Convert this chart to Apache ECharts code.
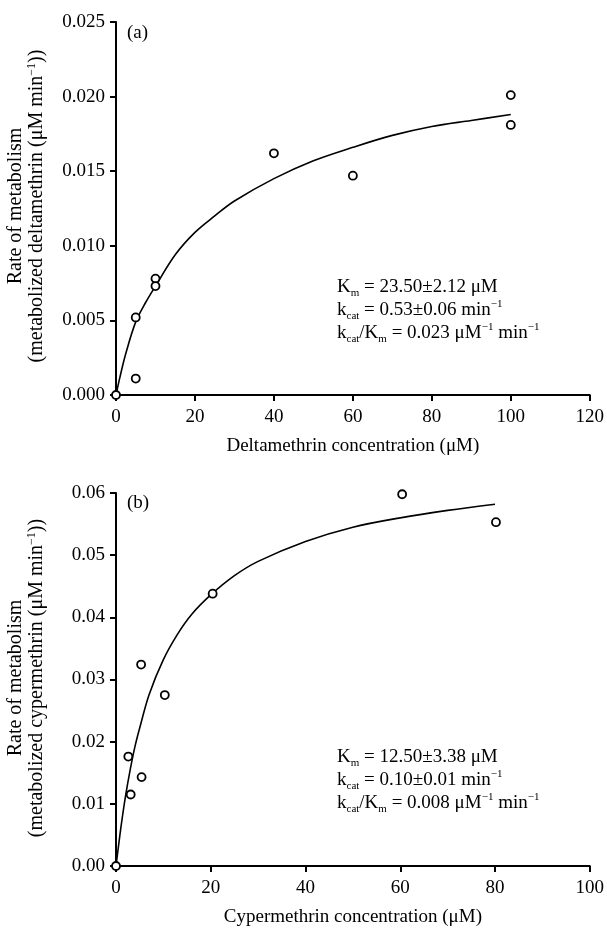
<!DOCTYPE html>
<html>
<head>
<meta charset="utf-8">
<script src="https://cdn.jsdelivr.net/npm/echarts@6/dist/echarts.min.js"></script>
<style>html,body{margin:0;padding:0;background:#fff;}#c{width:607px;height:928px;}</style>
</head>
<body>
<div id="c"></div>
<script>
// Panel (a): deltamethrin
var topConc = [0, 5, 5, 10, 10, 40, 60, 100, 100];
var topRate = [0, 0.0011, 0.0052, 0.0078, 0.0073, 0.0162, 0.0147, 0.0201, 0.0181];
var topFitConc = [0, 1, 2.5, 5, 7.5, 10, 15, 20, 25, 30, 40, 50, 60, 70, 80, 90, 100];
var topFitRate = [0, 0.0012, 0.0028, 0.0049, 0.0062, 0.0073, 0.0094, 0.0109, 0.0120, 0.0130, 0.0145, 0.0157, 0.0166, 0.0174, 0.0180, 0.0184, 0.0188];
var topXTicks = [0, 120, 20];
var topYTicks = [0, 0.025, 0.005];

// Panel (b): cypermethrin
var botConc = [0, 2.6, 3.1, 5.4, 5.3, 10.3, 20.4, 60.4, 80.2];
var botRate = [0, 0.0176, 0.0115, 0.0143, 0.0324, 0.0275, 0.0438, 0.0598, 0.0553];
var botFitConc = [0, 1, 2, 3, 4, 5, 7, 10, 13, 16, 20, 25, 30, 40, 50, 60, 70, 80];
var botFitRate = [0, 0.0060, 0.0112, 0.0155, 0.0192, 0.0222, 0.0276, 0.0332, 0.0373, 0.0405, 0.0436, 0.0467, 0.0490, 0.0522, 0.0545, 0.0560, 0.0572, 0.0582];
var botXTicks = [0, 100, 20];
var botYTicks = [0, 0.06, 0.01];

var FONT = 'Liberation Serif';
function pairs(xs, ys) { return xs.map(function (x, i) { return [x, ys[i]]; }); }

function xAxisCfg(grid, ticks, name) {
  return {
    type: 'value', gridIndex: grid, min: ticks[0], max: ticks[1], interval: ticks[2],
    name: name, nameLocation: 'middle', nameGap: 42,
    nameTextStyle: { fontFamily: FONT, fontSize: 19, color: '#000' },
    axisLine: { show: true, onZero: false, lineStyle: { color: '#000', width: 2 } },
    axisTick: { show: true, inside: false, length: 6, lineStyle: { color: '#000', width: 2 } },
    axisLabel: { fontFamily: FONT, fontSize: 19, color: '#000', margin: 13 },
    splitLine: { show: false }
  };
}
function yAxisCfg(grid, ticks, digits) {
  return {
    type: 'value', gridIndex: grid, min: ticks[0], max: ticks[1], interval: ticks[2],
    axisLine: { show: true, onZero: false, lineStyle: { color: '#000', width: 2 } },
    axisTick: { show: true, inside: false, length: 6, lineStyle: { color: '#000', width: 2 } },
    axisLabel: { fontFamily: FONT, fontSize: 19, color: '#000', margin: 11,
      formatter: function (v) { return v.toFixed(digits); } },
    splitLine: { show: false }
  };
}
function scatterCfg(idx, xs, ys) {
  return {
    type: 'scatter', xAxisIndex: idx, yAxisIndex: idx, data: pairs(xs, ys),
    symbol: 'circle', symbolSize: 8, clip: false, z: 5,
    itemStyle: { color: '#fff', borderColor: '#000', borderWidth: 1.8, opacity: 1 }
  };
}
function lineCfg(idx, xs, ys) {
  return {
    type: 'line', xAxisIndex: idx, yAxisIndex: idx, data: pairs(xs, ys),
    symbol: 'none', smooth: 0.35, z: 3,
    lineStyle: { color: '#000', width: 1.6 }
  };
}

var rich = {
  t: { fontFamily: FONT, fontSize: 19, color: '#000', lineHeight: 23 },
  sub: { fontFamily: FONT, fontSize: 11, color: '#000', verticalAlign: 'bottom' },
  sup: { fontFamily: FONT, fontSize: 11, color: '#000', verticalAlign: 'top' }
};
var yRich = {
  t: { fontFamily: FONT, fontSize: 20, color: '#000', lineHeight: 21 },
  sup: { fontFamily: FONT, fontSize: 12, color: '#000', verticalAlign: 'top' }
};

function annot(y, km, kcat, ratio) {
  return {
    type: 'text', x: 337, y: y, z: 10,
    style: {
      text: '{t|K}{sub|m}{t| = ' + km + ' μM}\n' +
            '{t|k}{sub|cat}{t| = ' + kcat + ' min}{sup|−1}\n' +
            '{t|k}{sub|cat}{t|/K}{sub|m}{t| = ' + ratio + ' μM}{sup|−1}{t| min}{sup|−1}',
      rich: rich, align: 'left', verticalAlign: 'top'
    }
  };
}
function yTitle(y, compound) {
  return {
    type: 'text', x: 26, y: y, rotation: Math.PI / 2, z: 10,
    style: {
      text: '{t|Rate of metabolism}\n{t|(metabolized ' + compound + ' (μM min}{sup|−1}{t|))}',
      rich: yRich, align: 'center', verticalAlign: 'middle'
    }
  };
}
function panelLabel(y, txt) {
  return {
    type: 'text', x: 127, y: y, z: 10,
    style: { text: txt, fontFamily: FONT, fontSize: 19, fill: '#000', align: 'left', verticalAlign: 'middle' }
  };
}

var chart = echarts.init(document.getElementById('c'), null, { renderer: 'canvas' });
chart.setOption({
  animation: false,
  backgroundColor: '#fff',
  grid: [
    { left: 116, top: 22, width: 475, height: 373 },
    { left: 116, top: 493, width: 475, height: 373 }
  ],
  xAxis: [
    xAxisCfg(0, topXTicks, 'Deltamethrin concentration (μM)'),
    xAxisCfg(1, botXTicks, 'Cypermethrin concentration (μM)')
  ],
  yAxis: [
    yAxisCfg(0, topYTicks, 3),
    yAxisCfg(1, botYTicks, 2)
  ],
  series: [
    lineCfg(0, topFitConc, topFitRate),
    scatterCfg(0, topConc, topRate),
    lineCfg(1, botFitConc, botFitRate),
    scatterCfg(1, botConc, botRate)
  ],
  graphic: [
    yTitle(206, 'deltamethrin'),
    yTitle(678, 'cypermethrin'),
    panelLabel(33, '(a)'),
    panelLabel(503, '(b)'),
    annot(275.5, '23.50±2.12', '0.53±0.06', '0.023'),
    annot(745.5, '12.50±3.38', '0.10±0.01', '0.008')
  ]
});
</script>
</body>
</html>
